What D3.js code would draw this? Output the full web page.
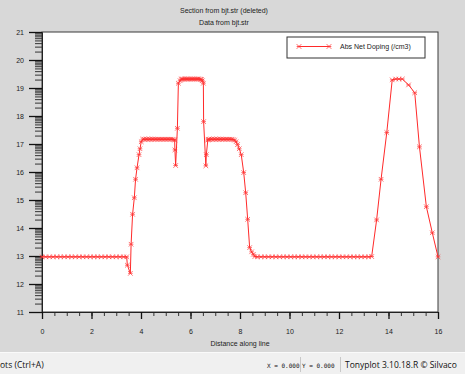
<!DOCTYPE html>
<html>
<head>
<meta charset="utf-8">
<style>
  body { margin: 0; background: #d8d8d8; }
  svg { display: block; }
</style>
</head>
<body>
<svg width="465" height="374" font-family="Liberation Sans, Arial, sans-serif" font-size="7"></svg>
<script src="https://d3js.org/d3.v7.min.js"></script>
<script>

// distance along the cut line (um)
var distance = [
  0, 0.15, 0.3, 0.45, 0.6, 0.75, 0.9, 1.05, 1.2, 1.35, 1.5, 1.65, 1.8, 1.95, 2.1, 2.25, 2.4, 2.55, 2.7, 2.85, 3.0, 3.15, 3.3, 3.42,
  3.45, 3.57, 3.60, 3.66, 3.73, 3.78, 3.84, 3.92, 3.96, 4.01, 4.07,
  4.13, 4.19, 4.25, 4.31, 4.37, 4.43, 4.49, 4.55, 4.61, 4.67, 4.73, 4.79, 4.85, 4.91, 4.97, 5.03, 5.09, 5.15, 5.21, 5.27, 5.33, 5.36,
  5.37, 5.40, 5.47, 5.51, 5.58, 5.62,
  5.66, 5.71, 5.76, 5.81, 5.86, 5.91, 5.96, 6.01, 6.06, 6.11, 6.16, 6.21, 6.26, 6.31, 6.36, 6.41, 6.45,
  6.48, 6.52, 6.53, 6.62, 6.64, 6.70, 6.72,
  6.76, 6.82, 6.88, 6.94, 7.00, 7.06, 7.12, 7.18, 7.24, 7.30, 7.36, 7.42, 7.48, 7.54, 7.60, 7.66, 7.72, 7.78,
  7.84, 7.90, 7.97, 8.05, 8.15, 8.23, 8.31, 8.39, 8.47, 8.54, 8.60,
  8.70, 8.85, 9.0, 9.15, 9.3, 9.45, 9.6, 9.75, 9.9, 10.05, 10.2, 10.35, 10.5, 10.65, 10.8, 10.95, 11.1, 11.25, 11.4, 11.55, 11.7, 11.85, 12.0, 12.15, 12.3, 12.45, 12.6, 12.75, 12.9, 13.05, 13.2, 13.32,
  13.52, 13.70, 13.93, 14.15, 14.29, 14.42, 14.56, 14.81, 15.06, 15.25, 15.53, 15.77, 16.0
];

// log10 |net doping| (/cm3)
var doping = [
  12.97, 12.97, 12.97, 12.97, 12.97, 12.97, 12.97, 12.97, 12.97, 12.97, 12.97, 12.97, 12.97, 12.97, 12.97, 12.97, 12.97, 12.97, 12.97, 12.97, 12.97, 12.97, 12.97, 12.97,
  12.67, 12.38, 13.42, 14.49, 15.08, 15.74, 16.15, 16.62, 16.83, 17.08, 17.17,
  17.17, 17.17, 17.17, 17.17, 17.17, 17.17, 17.17, 17.17, 17.17, 17.17, 17.17, 17.17, 17.17, 17.17, 17.17, 17.17, 17.17, 17.17, 17.17, 17.17, 17.16, 17.14,
  16.79, 16.23, 17.56, 19.17, 19.26, 19.31,
  19.32, 19.32, 19.32, 19.32, 19.32, 19.32, 19.32, 19.32, 19.32, 19.32, 19.32, 19.32, 19.32, 19.32, 19.32, 19.31, 19.30,
  19.26, 19.17, 17.80, 16.22, 16.62, 17.14, 17.17,
  17.17, 17.17, 17.17, 17.17, 17.17, 17.17, 17.17, 17.17, 17.17, 17.17, 17.17, 17.17, 17.17, 17.17, 17.17, 17.17, 17.16, 17.14,
  17.08, 16.98, 16.83, 16.62, 15.98, 15.26, 14.31, 13.30, 13.15, 13.06, 12.98,
  12.97, 12.97, 12.97, 12.97, 12.97, 12.97, 12.97, 12.97, 12.97, 12.97, 12.97, 12.97, 12.97, 12.97, 12.97, 12.97, 12.97, 12.97, 12.97, 12.97, 12.97, 12.97, 12.97, 12.97, 12.97, 12.97, 12.97, 12.97, 12.97, 12.97, 12.97, 12.98,
  14.29, 15.74, 17.41, 19.29, 19.32, 19.32, 19.32, 19.11, 18.83, 16.90, 14.76, 13.83, 12.97
];

var xTicks = [0, 2, 4, 6, 8, 10, 12, 14, 16];
var yTicks = [11, 12, 13, 14, 15, 16, 17, 18, 19, 20, 21];
var seriesName = "Abs Net Doping (/cm3)";
var titles = ["Section from bjt.str (deleted)", "Data from bjt.str"];
var xTitle = "Distance along line";

var svg = d3.select("svg"),
    width = +svg.attr("width"),
    height = +svg.attr("height");

var plotL = 42, plotR = 438, plotT = 32, plotB = 312;

var x = d3.scaleLinear().domain([0, 16]).range([plotL, plotR]);
var y = d3.scaleLinear().domain([11, 21]).range([plotB, plotT]);

// window background + status bar
svg.append("rect").attr("width", width).attr("height", height).attr("fill", "#d8d8d8");
svg.append("rect").attr("y", 352).attr("width", width).attr("height", height - 352).attr("fill", "#f0f0f0");
svg.append("line").attr("x1", 0).attr("x2", width).attr("y1", 352.5).attr("y2", 352.5).attr("stroke", "#fafafa");

// plot area
svg.append("rect")
    .attr("x", plotL).attr("y", plotT)
    .attr("width", plotR - plotL).attr("height", plotB - plotT)
    .attr("fill", "#fff")
    .attr("stroke", "#3a3a3a");

// titles
svg.selectAll(".title")
  .data(titles)
  .enter().append("text")
    .attr("class", "title")
    .attr("x", 224).attr("y", function(d, i) { return 13 + i * 12; })
    .attr("text-anchor", "middle")
    .attr("fill", "#222")
    .text(function(d) { return d; });

// y axis, major + log-style minor ticks
var yMinor = [];
yTicks.slice(0, -1).forEach(function(t) {
  for (var k = 2; k <= 9; k++) yMinor.push(t + Math.log10(k));
});

svg.append("g")
    .attr("transform", "translate(" + plotL + ",0)")
    .call(d3.axisLeft(y).tickValues(yMinor).tickSize(7).tickFormat(""))
    .call(function(g) { g.select(".domain").remove(); g.selectAll("line").attr("stroke", "#333"); });

svg.append("g")
    .attr("transform", "translate(" + plotL + ",0)")
    .call(d3.axisLeft(y).tickValues(yTicks).tickSize(13).tickPadding(5).tickFormat(d3.format("d")))
    .call(function(g) {
      g.select(".domain").attr("stroke", "#222");
      g.selectAll("line").attr("stroke", "#111").attr("stroke-width", 1.3);
      g.selectAll("text").attr("font-size", 7).attr("fill", "#222").attr("font-family", "Liberation Sans, Arial, sans-serif");
    });

// x axis
svg.append("g")
    .attr("transform", "translate(0," + plotB + ")")
    .call(d3.axisBottom(x).tickValues(d3.range(0, 16.01, 0.5)).tickSize(4).tickFormat(""))
    .call(function(g) { g.select(".domain").remove(); g.selectAll("line").attr("stroke", "#333"); });

svg.append("g")
    .attr("transform", "translate(0," + plotB + ")")
    .call(d3.axisBottom(x).tickValues(xTicks).tickSize(7).tickPadding(10).tickFormat(d3.format("d")))
    .call(function(g) {
      g.select(".domain").attr("stroke", "#222");
      g.selectAll("line").attr("stroke", "#111").attr("stroke-width", 1.3);
      g.selectAll("text").attr("font-size", 7).attr("fill", "#222").attr("font-family", "Liberation Sans, Arial, sans-serif");
    });

svg.append("text")
    .attr("x", 240).attr("y", 346)
    .attr("text-anchor", "middle")
    .attr("fill", "#222")
    .text(xTitle);

// data
var pts = distance.map(function(d, i) { return [d, doping[i]]; });

var line = d3.line()
    .x(function(d) { return x(d[0]); })
    .y(function(d) { return y(d[1]); });

svg.append("path")
    .datum(pts)
    .attr("fill", "none")
    .attr("stroke", "#ff2a2a")
    .attr("stroke-width", 1)
    .attr("d", line);

var star = "M-2.3,-2.3L2.3,2.3M-2.3,2.3L2.3,-2.3M-2.3,0L2.3,0";

svg.append("g").selectAll("path")
  .data(pts)
  .enter().append("path")
    .attr("transform", function(d) { return "translate(" + x(d[0]) + "," + y(d[1]) + ")"; })
    .attr("d", star)
    .attr("fill", "none")
    .attr("stroke", "#ff3030")
    .attr("stroke-width", 0.8)
    .attr("stroke-opacity", 0.85);

// legend
var legend = svg.append("g").attr("transform", "translate(287,37)");
legend.append("rect")
    .attr("width", 138).attr("height", 21)
    .attr("fill", "#fff").attr("stroke", "#333");
legend.append("line")
    .attr("x1", 12).attr("x2", 42).attr("y1", 9.5).attr("y2", 9.5)
    .attr("stroke", "#ff2a2a");
legend.selectAll(".mk")
  .data([12, 42])
  .enter().append("path")
    .attr("class", "mk")
    .attr("transform", function(d) { return "translate(" + d + ",9.5)"; })
    .attr("d", star)
    .attr("fill", "none")
    .attr("stroke", "#ff3030")
    .attr("stroke-width", 0.8);
legend.append("text")
    .attr("x", 53).attr("y", 12)
    .attr("fill", "#222")
    .text(seriesName);

// status bar
svg.append("text")
    .attr("x", 0).attr("y", 368)
    .attr("font-family", "Open Sans, sans-serif").attr("font-size", 8.5)
    .attr("fill", "#111")
    .text("ots (Ctrl+A)");
svg.append("text")
    .attr("x", 267).attr("y", 368)
    .attr("font-family", "DejaVu Sans Mono, monospace").attr("font-size", 6)
    .attr("fill", "#111")
    .text("X = 0.000");
svg.append("text")
    .attr("x", 302).attr("y", 368)
    .attr("font-family", "DejaVu Sans Mono, monospace").attr("font-size", 6)
    .attr("fill", "#111")
    .text("Y = 0.000");
svg.selectAll(".sep")
  .data([300, 340])
  .enter().append("line")
    .attr("class", "sep")
    .attr("x1", function(d) { return d + 0.5; }).attr("x2", function(d) { return d + 0.5; })
    .attr("y1", 357).attr("y2", 372)
    .attr("stroke", "#c8c8c8");
svg.append("text")
    .attr("x", 345).attr("y", 368)
    .attr("font-family", "Open Sans, sans-serif").attr("font-size", 8.5)
    .attr("fill", "#111")
    .text("Tonyplot 3.10.18.R \u00a9 Silvaco");

</script>
</body>
</html>
